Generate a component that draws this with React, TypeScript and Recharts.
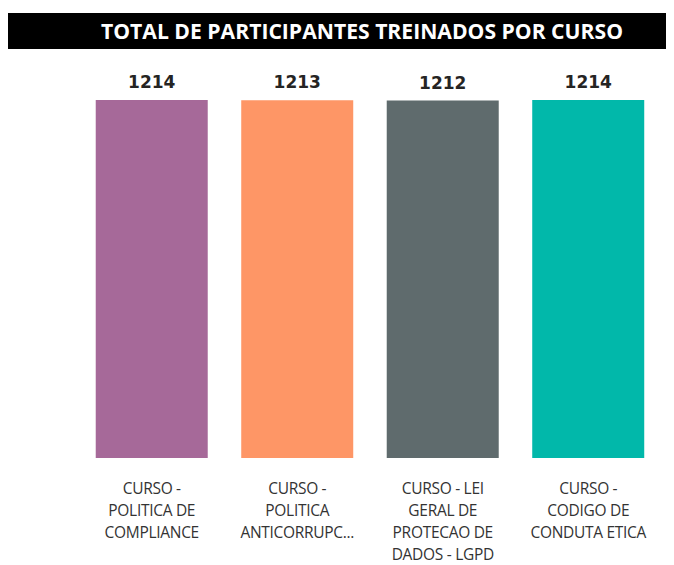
import React from 'react';
import { BarChart, Bar, XAxis, YAxis, Cell, LabelList } from 'recharts';

const courses = [
    'CURSO - POLITICA DE COMPLIANCE',
    'CURSO - POLITICA ANTICORRUPCAO',
    'CURSO - LEI GERAL DE PROTECAO DE DADOS - LGPD',
    'CURSO - CODIGO DE CONDUTA ETICA',
];
const tickLines = [
    ['CURSO -', 'POLITICA DE', 'COMPLIANCE'],
    ['CURSO -', 'POLITICA', 'ANTICORRUPC...'],
    ['CURSO - LEI', 'GERAL DE', 'PROTECAO DE', 'DADOS - LGPD'],
    ['CURSO -', 'CODIGO DE', 'CONDUTA ETICA'],
];
const participants = [1214, 1213, 1212, 1214];
const colors = ['#A66999', '#FE9666', '#5F6B6D', '#01B8AA'];

const data = courses.map((name, i) => ({ name, value: participants[i] }));

const CourseTick = (props: any) => {
    const { x, y, index } = props;
    const lines = tickLines[index] || [];
    return (
        <g transform={`translate(${x},${y})`}>
            {lines.map((line, i) => (
                <text key={i} x={0} y={28 + i * 22} textAnchor="middle" fill="#333333"
                    fontSize={15.5} fontFamily="'Open Sans', sans-serif"
                    style={{ letterSpacing: '-0.3px' }}>
                    {line}
                </text>
            ))}
        </g>
    );
};

export default function App() {
    return (
        <div style={{ position: 'relative', width: 666, height: 557, background: '#fff' }}>
            <svg width={666} height={42} style={{ position: 'absolute', left: 0, top: 0 }}>
                <rect x={0} y={5} width={666} height={36} fill="#000" />
                <text x={354} y={31} textAnchor="middle" fill="#fff" fontSize={21} fontWeight="bold"
                    fontFamily="'Liberation Sans Narrow', 'Open Sans', sans-serif"
                    textLength={522} lengthAdjust="spacingAndGlyphs">
                    TOTAL DE PARTICIPANTES TREINADOS POR CURSO
                </text>
            </svg>
            <div style={{ position: 'absolute', left: 0, top: 0 }}>
                <BarChart width={666} height={557} data={data}
                    margin={{ top: 92, right: 13, bottom: 0, left: 71 }} barCategoryGap="11.5%">
                    <XAxis dataKey="name" axisLine={false} tickLine={false} height={107}
                        interval={0} tick={<CourseTick />} />
                    <YAxis hide domain={[0, 1214]} />
                    <Bar dataKey="value" isAnimationActive={false}>
                        {data.map((d, i) => <Cell key={d.name} fill={colors[i]} />)}
                        <LabelList dataKey="value" position="top" offset={12} fill="#252423"
                            fontSize={17} fontWeight="bold" fontFamily="'DejaVu Sans', sans-serif" />
                    </Bar>
                </BarChart>
            </div>
        </div>
    );
}
